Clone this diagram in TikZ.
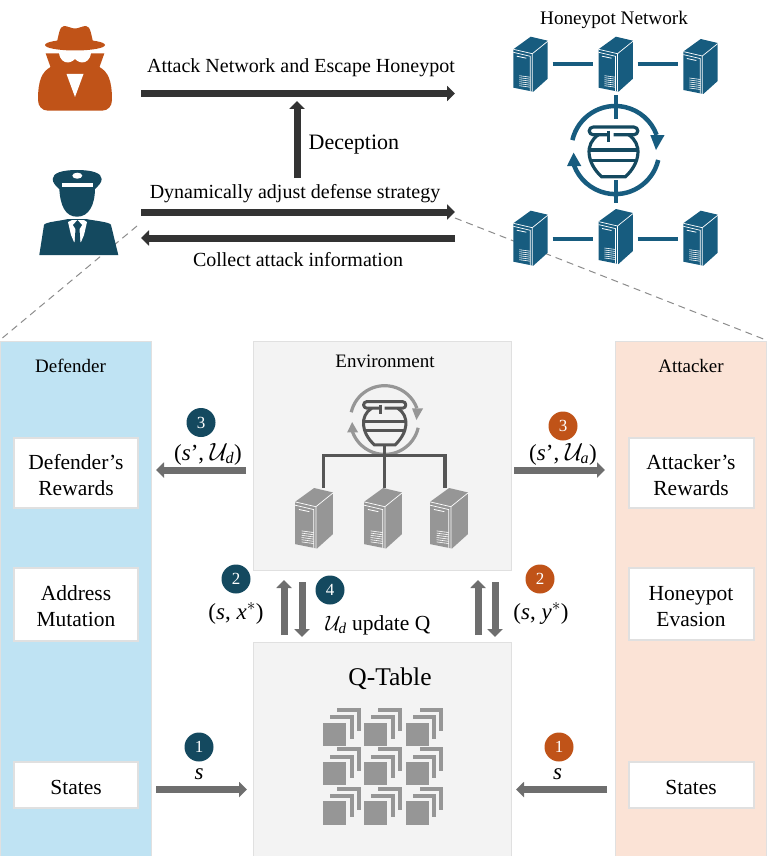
\documentclass[tikz,border=0pt]{standalone}
\usepackage{amsmath}
\usepackage{fontspec}
\setmainfont{Liberation Serif}
\usetikzlibrary{arrows.meta,positioning}
\definecolor{srvblue}{HTML}{175C7F}
\definecolor{navy}{HTML}{14495F}
\definecolor{rust}{HTML}{C05318}
\definecolor{panelblue}{HTML}{BFE3F3}
\definecolor{panelrose}{HTML}{FBE3D6}
\definecolor{envgray}{HTML}{F3F3F3}
\definecolor{iconlight}{HTML}{969696}
\definecolor{icondark}{HTML}{555555}
\newcommand{\sym}[1]{\textit{#1}}
\newcommand{\lowertext}{\rule{0pt}{19.5pt}}
\tikzset{
    panel/.style={draw=black!12,line width=1.2pt,fill=#1},
    itembox/.style={draw=black!12,line width=2pt,fill=white,align=center,font=\fontsize{21.5}{26}\selectfont},
    bigarrow/.style={line width=7pt,draw=black!80,-{Triangle[length=8pt,width=15pt]}},
    midarrow/.style={line width=7pt,draw=black!57,-{Triangle[length=8pt,width=15pt]}},
    badge/.style={circle,fill=#1,text=white,minimum size=29pt,inner sep=0pt,font=\fontsize{17}{17}\selectfont},
    caption/.style={font=\fontsize{20}{24}\selectfont,inner sep=0pt},
    mathcap/.style={font=\fontsize{23}{26}\selectfont,inner sep=0pt},
    server/.pic={
        \fill[#1] (0,12.6) -- (17.4,0) -- (34.4,4) -- (34.4,42) -- (20,55) -- (0,51) -- cycle;
        \draw[white,line width=0.7pt] (0,12.6) -- (19,17) -- (34.4,4.6) (19,17) -- (19,55);
        \draw[white,line width=0.7pt] (0,15.6) -- (17,19.6) -- (17,54.6);
        \draw[white,line width=0.8pt] (3.5,19.5) -- (13,21.5);
        \foreach \vy in {39,41,43,45,47,49}
            \draw[white,line width=0.6pt] (6,\vy) -- (17,\vy+1.5);
    },
    potring/.pic={
        \draw[#1] (-42.9,-9.9) arc (193:340:44);
        \fill[#1] (35,-15) -- (49.3,-15) -- (40.7,0) -- cycle;
        \draw[#1] (42.9,10) arc (13:160:44);
        \fill[#1] (-48.3,16) -- (-34,16) -- (-41.7,2.7) -- cycle;
    },
    potbody/.pic={
        \draw[#1,line join=round] (-5,-17) -- (-20.5,-17) arc (90:270:3.8) -- (20.5,-24.6) arc (270:450:3.8) -- (0,-17);
        \draw[#1] (-5,-21) -- (-5,-10);
        \draw[#1] (-15,-17) .. controls (-29,-8) and (-27,11) .. (-12,25) -- (12,25) .. controls (27,11) and (29,-8) .. (15,-17);
        \draw[#1] (-23.5,-1.7) -- (23.5,-1.7) (-22,8.5) -- (22,8.5);
    },
    qcell/.pic={
        \fill[iconlight] (0,0) rectangle (23.3,23.3);
        \draw[iconlight,line width=4pt] (7.3,-5.3) -- (28.7,-5.3) -- (28.7,16);
        \draw[iconlight,line width=4pt] (14.3,-12.7) -- (35.7,-12.7) -- (35.7,8.7);
    }
}
\begin{document}
\begin{tikzpicture}[x=1pt,y=-1pt]
    \useasboundingbox (0,0) rectangle (766,856);
    % guide lines behind the icons
    \coordinate (DefA) at (137,226);
    \coordinate (DefB) at (0,340);
    \coordinate (AtkA) at (455,218);
    \coordinate (AtkB) at (766,340);
    \draw[black!45,line width=1pt,dash pattern=on 7pt off 5pt] (DefA) -- (DefB);
    \draw[black!45,line width=1pt,dash pattern=on 7pt off 5pt] (AtkA) -- (AtkB);

    % attacker icon
    \fill[rust] (75,45) ellipse (30 and 5.5);
    \fill[rust] (56,45) .. controls (59,36) and (59,26) .. (64,26) .. controls (68,26) and (71,28.5) .. (75,28.5) .. controls (79,28.5) and (82,26) .. (86,26) .. controls (91,26) and (91,36) .. (94,45) -- cycle;
    \fill[rust] (45.7,53.5) -- (104.3,53.5) -- (99.5,67) .. controls (108,72) and (112,80) .. (112,100) .. controls (112,106) and (108,110.7) .. (102,110.7) -- (48,110.7) .. controls (42,110.7) and (38,106) .. (38,100) .. controls (38,80) and (42,72) .. (50.5,67) -- cycle;
    \fill[white] (59,53) -- (91,53) .. controls (90,60) and (86,62.5) .. (82,62.5) .. controls (78,62) and (76,60) .. (75,59) .. controls (74,60) and (72,62) .. (68,62.5) .. controls (64,62.5) and (60,60) .. (59,53) -- cycle;
    \fill[white] (66.5,74) -- (83.5,74) -- (75,97) -- cycle;

    % defender icon
    \fill[navy] (59.3,188) .. controls (60,205) and (65,216.7) .. (77,216.7) .. controls (89,216.7) and (95,205) .. (95,188) -- cycle;
    \fill[navy] (77,170) .. controls (92,170) and (101.7,173) .. (101.7,179) .. controls (101.7,183) and (98,186) .. (95,189) -- (59,189) .. controls (56,186) and (52.7,183) .. (52.7,179) .. controls (52.7,173) and (62,170) .. (77,170) -- cycle;
    \fill[white] (61.7,183.3) rectangle (93,186.7);
    \fill[white] (77.3,175.7) ellipse (5 and 3);
    \fill[navy] (39.3,255) -- (44,225) .. controls (45,222) and (60,221) .. (68,219) -- (86,219) .. controls (96,221) and (110,222) .. (111,225) -- (118.3,255) -- cycle;
    \fill[white] (68,222) -- (72,220) -- (84,220) -- (87,222) -- (84,235) -- (81,242) -- (74,242) -- (71,235) -- cycle;
    \fill[navy] (77.5,220) -- (82,225) -- (79.5,229) -- (81,252) -- (74,252) -- (75.5,229) -- (73,225) -- cycle;

    % top arrows
    \coordinate (AtkStart) at (141,93.5);
    \coordinate (AtkEnd) at (455,93.5);
    \coordinate (DecStart) at (297,178);
    \coordinate (DecEnd) at (297,101);
    \coordinate (DynStart) at (141,212);
    \coordinate (DynEnd) at (455,212);
    \coordinate (ColStart) at (455,238);
    \coordinate (ColEnd) at (141,238);
    \draw[bigarrow] (AtkStart) -- (AtkEnd);
    \draw[bigarrow] (DecStart) -- (DecEnd);
    \draw[bigarrow] (DynStart) -- (DynEnd);
    \draw[bigarrow] (ColStart) -- (ColEnd);
    \node[caption] (attacktext) at (301,68) {Attack Network and Escape Honeypot};
    \node[font=\fontsize{22}{24}\selectfont,inner sep=0pt,anchor=west] (dectext) at (308.5,145) {Deception};
    \node[caption] (dyntext) at (295,193.5) {Dynamically adjust defense strategy};
    \node[caption] (coltext) at (298,260) {Collect attack information};

    % honeypot network
    \node[font=\fontsize{19.2}{20}\selectfont,inner sep=0pt] (nettitle) at (614,20) {Honeypot Network};
    \coordinate (NetA) at (552.7,63.7);
    \coordinate (NetB) at (593.3,63.7);
    \coordinate (NetC) at (637.7,63.7);
    \coordinate (NetD) at (678.3,63.7);
    \coordinate (NetE) at (552.7,238.7);
    \coordinate (NetF) at (593.3,238.7);
    \coordinate (NetG) at (637.7,238.7);
    \coordinate (NetH) at (678.3,238.7);
    \coordinate (NetI) at (615.5,95);
    \coordinate (NetJ) at (615.5,119);
    \coordinate (NetK) at (615.5,180);
    \coordinate (NetL) at (615.5,203);
    \draw[srvblue,line width=4pt] (NetA) -- (NetB) (NetC) -- (NetD) (NetE) -- (NetF) (NetG) -- (NetH) (NetI) -- (NetJ) (NetK) -- (NetL);
    \pic at (513.3,36.7) {server=srvblue};
    \pic at (598.5,36.7) {server=srvblue};
    \pic at (683.3,39) {server=srvblue};
    \pic at (513.3,210.7) {server=srvblue};
    \pic at (598.5,209) {server=srvblue};
    \pic at (683.3,210.7) {server=srvblue};
    \pic[line width=4.5pt] at (615.3,150) {potring=srvblue};
    \pic[line width=3.2pt] at (613.5,151.7) {potbody=navy};

    % panels
    \node[panel=panelblue,minimum width=151pt,minimum height=515pt,anchor=north west,inner sep=0pt] (defpanel) at (0,341) {};
    \node[panel=panelrose,minimum width=151pt,minimum height=515pt,anchor=north west,inner sep=0pt] (atkpanel) at (615,341) {};
    \node[panel=envgray,minimum width=258pt,minimum height=229pt,anchor=north west,inner sep=0pt] (envbox) at (253,341) {};
    \node[panel=envgray,minimum width=258pt,minimum height=214pt,anchor=north west,inner sep=0pt] (qbox) at (253,642) {};
    \node[font=\fontsize{19}{20}\selectfont,inner sep=0pt] (deftitle) at (70.5,366) {Defender};
    \node[font=\fontsize{19}{20}\selectfont,inner sep=0pt] (atktitle) at (691,366) {Attacker};
    \node[font=\fontsize{19}{20}\selectfont,inner sep=0pt] (envtitle) at (385,361) {Environment};
    \node[font=\fontsize{25.5}{28}\selectfont,inner sep=0pt] (qtitle) at (390,679) {Q-Table};

    \node[itembox,minimum width=124pt,minimum height=70pt,inner sep=0pt] (defrew) at (76,472.5) {\lowertext Defender’s\\Rewards};
    \node[itembox,minimum width=124pt,minimum height=73pt,inner sep=0pt] (defmut) at (76,604) {\lowertext Address\\Mutation};
    \node[itembox,minimum width=124pt,minimum height=46pt,inner sep=0pt] (defsta) at (76,785) {\lowertext States};
    \node[itembox,minimum width=125pt,minimum height=70pt,inner sep=0pt] (atkrew) at (691,472.5) {\lowertext Attacker’s\\Rewards};
    \node[itembox,minimum width=125pt,minimum height=72pt,inner sep=0pt] (atkeva) at (691,603.5) {\lowertext Honeypot\\Evasion};
    \node[itembox,minimum width=125pt,minimum height=46pt,inner sep=0pt] (atksta) at (691,785) {\lowertext States};

    % environment icon
    \coordinate (EnvTop) at (384.7,445);
    \coordinate (EnvMid) at (384.7,455.3);
    \coordinate (EnvL) at (323.3,487.7);
    \coordinate (EnvC) at (384.7,487.7);
    \coordinate (EnvR) at (445,487.7);
    \pic[scale=0.78,line width=3.2pt] at (384.7,420) {potring=iconlight};
    \draw[icondark,line width=3.4pt] (EnvL) -- (EnvL |- EnvMid) -- (EnvR |- EnvMid) -- (EnvR) (EnvTop) -- (EnvC);
    \pic[scale=0.87,line width=3pt] at (384.7,423) {potbody=icondark};
    \pic[scale=1.1] at (295,488) {server=iconlight};
    \pic[scale=1.1] at (364,488) {server=iconlight};
    \pic[scale=1.1] at (430,488) {server=iconlight};

    % q-table icon
    \foreach \qx in {323,364,405.7}
        \foreach \qy in {722.7,762,801.3}
            \pic at (\qx,\qy) {qcell};

    % connectors between the blocks
    \coordinate (RewLA) at (246,470);
    \coordinate (RewLB) at (156,470);
    \coordinate (RewRA) at (514,470);
    \coordinate (RewRB) at (605,470);
    \coordinate (StaLA) at (156,789.5);
    \coordinate (StaLB) at (247,789.5);
    \coordinate (StaRA) at (607,789.5);
    \coordinate (StaRB) at (516,789.5);
    \draw[midarrow] (RewLA) -- (RewLB);
    \draw[midarrow] (RewRA) -- (RewRB);
    \draw[midarrow] (StaLA) -- (StaLB);
    \draw[midarrow] (StaRA) -- (StaRB);
    \coordinate (UpLA) at (284,635);
    \coordinate (UpLB) at (284,580);
    \coordinate (DnLA) at (302,582);
    \coordinate (DnLB) at (302,637);
    \coordinate (UpRA) at (478,635);
    \coordinate (UpRB) at (478,580);
    \coordinate (DnRA) at (495,582);
    \coordinate (DnRB) at (495,637);
    \draw[midarrow] (UpLA) -- (UpLB);
    \draw[midarrow] (DnLA) -- (DnLB);
    \draw[midarrow] (UpRA) -- (UpRB);
    \draw[midarrow] (DnRA) -- (DnRB);

    \node[badge=navy] (numla) at (201,422.5) {3};
    \node[badge=rust] (numra) at (563,426) {3};
    \node[badge=navy] (numlb) at (236,579) {2};
    \node[badge=rust] (numrb) at (540,579) {2};
    \node[badge=navy] (numd) at (330,590) {4};
    \node[badge=navy] (numlc) at (199,747) {1};
    \node[badge=rust] (numrc) at (559,747) {1};
    \node[mathcap] (labla) at (208,454) {(\sym{s}’, $\mathcal{U}_{\sym{d}}$)};
    \node[mathcap] (labra) at (563,454) {(\sym{s}’, $\mathcal{U}_{\sym{a}}$)};
    \node[mathcap] (lablb) at (236,613) {(\sym{s}, \sym{x}$^{*}$)};
    \node[mathcap] (labrb) at (541,613) {(\sym{s}, \sym{y}$^{*}$)};
    \node[caption,font=\fontsize{21.5}{24}\selectfont] (labd) at (378,625) {$\mathcal{U}_{\sym{d}}$ update Q};
    \node[mathcap] (lablc) at (199,774) {\sym{s}};
    \node[mathcap] (labrc) at (557.5,774) {\sym{s}};
\end{tikzpicture}
\end{document}
